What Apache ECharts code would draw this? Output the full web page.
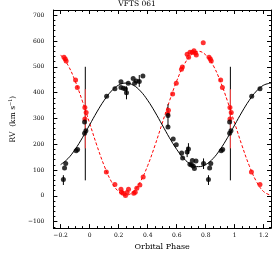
<!DOCTYPE html>
<html>
<head>
<meta charset="utf-8">
<script src="https://cdn.jsdelivr.net/npm/echarts@6/dist/echarts.min.js"></script>
<style>html,body{margin:0;padding:0;background:#fff}#c{width:274px;height:256px}</style>
</head>
<body>
<div id="c"></div>
<script>
// ---- data ----
const titleText = 'VFTS 061';
const xName = 'Orbital Phase';

// model curves
const curvePhase = [-0.2,-0.15,-0.1,-0.05,0,0.05,0.1,0.15,0.2,0.25,0.3,0.35,0.4,0.45,0.5,0.55,0.6,0.65,0.7,0.75,0.8,0.85,0.9,0.95,1.0,1.05,1.1,1.15,1.2,1.25];
const primaryModel = [121,144,180,225,275,325,370,406,429,437,429,406,370,325,275,225,180,144,121,113,121,144,180,225,275,325,370,406,429,437];
const secondaryModel = [546,507,445,367,281,195,117,55,16,2,16,55,117,195,281,367,445,507,546,560,546,507,445,367,281,195,117,55,16,2];

// primary (black) observations, phase in [0,1)
const primaryPhase = [0.117,0.174,0.216,0.216,0.233,0.247,0.254,0.266,0.300,0.310,0.321,0.342,0.367,0.540,0.540,0.576,0.597,0.634,0.641,0.672,0.681,0.691,0.702,0.708,0.714,0.722,0.733,0.785,0.819,0.827,0.835,0.907,0.917,0.965,0.974,0.965];
const primaryRV    = [386,415,442,420,417,414,399,436,455,436,445,443,464,311,267,220,198,166,147,170,181,122,119,137,116,106,135,125,63,108,125,175,180,242,252,286];

// primary error bars
const errPhase = [0.254,0.342,0.540,0.672,0.681,0.785,0.819];
const errLow   = [374,422,267,150,162,104,42];
const errHigh  = [424,468,355,190,204,145,80];

// secondary (red) observations, phase in [0,1)
const secondaryPhase = [0.115,0.174,0.216,0.220,0.231,0.247,0.258,0.268,0.304,0.314,0.325,0.346,0.369,0.538,0.543,0.572,0.597,0.633,0.639,0.672,0.682,0.692,0.708,0.719,0.729,0.735,0.783,0.823,0.832,0.838,0.903,0.915,0.967,0.976,0.967];
const secondaryRV    = [92,44,26,14,10,1,13,26,10,14,29,42,73,318,332,395,436,490,499,549,537,556,556,562,553,546,593,537,530,522,449,420,342,323,298];

// vertical markers
const markPhase = [-0.03, 0.97];
const markBlack = [60, 500];
const markRed = [184, 413];

// ---- build ----
const foldLo = -0.2, foldHi = 1.2;
function fold(ph, vals) {
  const out = [];
  ph.forEach((p, i) => {
    [-1, 0, 1].forEach(s => {
      const q = +(p + s).toFixed(4);
      if (q >= foldLo && q <= foldHi) out.push([q].concat(vals.map(v => v[i])));
    });
  });
  return out;
}
const primaryPts = fold(primaryPhase, [primaryRV]);
const secondaryPts = fold(secondaryPhase, [secondaryRV]);
const errPts = fold(errPhase, [errLow, errHigh]);
const blackMarks = markPhase.map(p => [p, markBlack[0], markBlack[1]]);
const redMarks = markPhase.map(p => [p, markRed[0], markRed[1]]);

function vline(color, width) {
  return function (params, api) {
    const a = api.coord([api.value(0), api.value(1)]);
    const b = api.coord([api.value(0), api.value(2)]);
    return { type: 'line', shape: { x1: a[0], y1: a[1], x2: b[0], y2: b[1] },
             style: { stroke: color, lineWidth: width } };
  };
}

const FONT = 'DejaVu Serif';
const xCommon = {
  type: 'value', min: -0.25, max: 1.25, splitNumber: 7,
  axisLine: { show: true, onZero: false, lineStyle: { color: '#000', width: 1 } },
  axisTick: { show: true, inside: true, length: 4, lineStyle: { color: '#000' } },
  minorTick: { show: true, splitNumber: 4, length: 2, lineStyle: { color: '#000' } },
  splitLine: { show: false }
};
const yCommon = {
  type: 'value', min: -125, max: 720, splitNumber: 8,
  axisLine: { show: true, onZero: false, lineStyle: { color: '#000', width: 1 } },
  axisTick: { show: true, inside: true, length: 4, lineStyle: { color: '#000' } },
  minorTick: { show: true, splitNumber: 5, length: 2, lineStyle: { color: '#000' } },
  splitLine: { show: false }
};

const option = {
  animation: false,
  backgroundColor: '#fff',
  title: { text: titleText, left: 'center', top: 0, padding: 0,
           textStyle: { fontFamily: FONT, fontSize: 7.5, fontWeight: 'normal', color: '#000' } },
  grid: { left: 32, right: 3, top: 10, bottom: 23 },
  xAxis: [
    Object.assign({}, xCommon, {
      position: 'bottom', name: xName, nameLocation: 'middle', nameGap: 11,
      nameTextStyle: { fontFamily: FONT, fontSize: 8, color: '#000' },
      axisLabel: { show: true, margin: 4, fontFamily: FONT, fontSize: 6, color: '#000',
                   showMinLabel: false, showMaxLabel: false,
                   formatter: v => (Math.abs(v) < 1e-9 ? '0' : String(+v.toFixed(2)).replace('-', '\u2212')) }
    }),
    Object.assign({}, xCommon, { position: 'top', axisLabel: { show: false } })
  ],
  yAxis: [
    Object.assign({}, yCommon, {
      position: 'left', name: 'RV  (km s{sup|\u22121})', nameLocation: 'middle', nameGap: 22, nameRotate: 90,
      nameTextStyle: { fontFamily: FONT, fontSize: 7.5, color: '#000',
                       rich: { sup: { fontFamily: FONT, fontSize: 5, color: '#000', verticalAlign: 'bottom', padding: [0, 0, 5, 0] } } },
      axisLabel: { show: true, margin: 9, fontFamily: FONT, fontSize: 6, color: '#000',
                   showMinLabel: false, showMaxLabel: false,
                   formatter: v => String(v).replace('-', '\u2212') }
    }),
    Object.assign({}, yCommon, { position: 'right', axisLabel: { show: false } })
  ],
  series: [
    { type: 'custom', renderItem: vline('#000', 1), data: blackMarks, encode: { x: 0, y: [1, 2] }, silent: true, z: 1 },
    { type: 'custom', renderItem: vline('#ff4a4a', 1), data: redMarks, encode: { x: 0, y: [1, 2] }, silent: true, z: 2 },
    { type: 'line', data: curvePhase.map((p, i) => [p, secondaryModel[i]]), smooth: 0.4, showSymbol: false,
      lineStyle: { color: '#ff0000', width: 1, type: [3, 2] }, z: 3 },
    { type: 'line', data: curvePhase.map((p, i) => [p, primaryModel[i]]), smooth: 0.4, showSymbol: false,
      lineStyle: { color: '#000', width: 1 }, z: 3 },
    { type: 'custom', renderItem: vline('#000', 1), data: errPts, encode: { x: 0, y: [1, 2] }, silent: true, z: 4 },
    { type: 'scatter', data: secondaryPts, symbol: 'circle', symbolSize: 5,
      itemStyle: { color: '#ff0000' }, z: 5 },
    { type: 'scatter', data: primaryPts, symbol: 'circle', symbolSize: 5,
      itemStyle: { color: '#000' }, z: 6 }
  ]
};
echarts.init(document.getElementById('c'), null, { renderer: 'canvas' }).setOption(option);
</script>
</body>
</html>
